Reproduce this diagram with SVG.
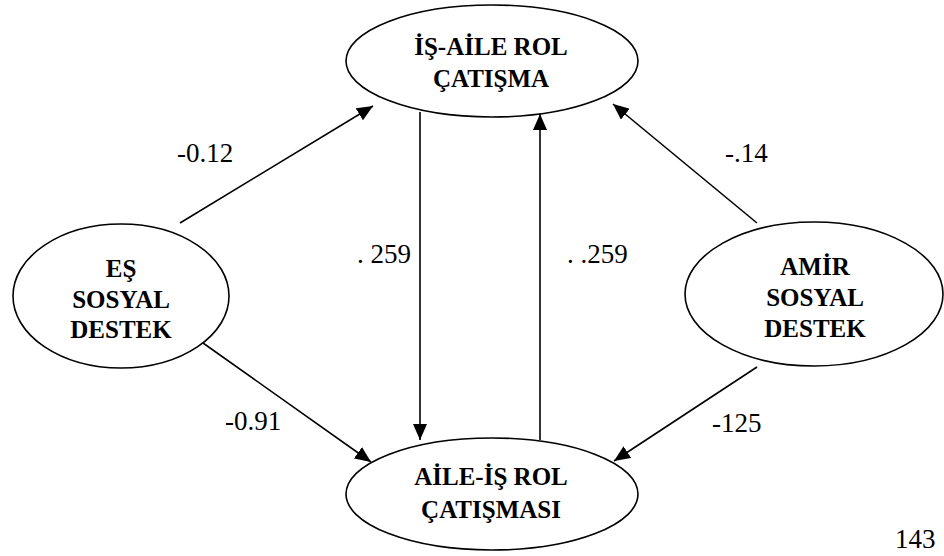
<svg xmlns="http://www.w3.org/2000/svg" width="944" height="556" viewBox="0 0 944 556">
<style>
.node ellipse{fill:#fff;stroke:#000;stroke-width:1.6}
.nt{font-weight:bold;font-size:25px;fill:#000;text-anchor:middle}
.el{font-size:27px;fill:#000}
.edges line{stroke:#000;stroke-width:1.6;marker-end:url(#ah)}
</style>
<defs>
<marker id="ah" markerUnits="userSpaceOnUse" markerWidth="16" markerHeight="14" refX="16" refY="7" orient="auto">
<path d="M0,0 L16,7 L0,14 z" fill="#000"/>
</marker>
</defs>
<rect width="944" height="556" fill="#fff"/>
<g class="edges" id="connectors">
<line x1="180" y1="223" x2="373" y2="106"/>
<line x1="757" y1="223" x2="613" y2="104"/>
<line x1="203" y1="343" x2="371" y2="462"/>
<line x1="757" y1="367" x2="614" y2="461"/>
<line x1="420" y1="112" x2="420" y2="440"/>
<line x1="540" y1="440" x2="540" y2="114"/>
</g>
<g font-family="Liberation Serif, Times New Roman, Times, serif">
<g id="n_isaile" class="node">
<ellipse cx="492" cy="61" rx="146" ry="56"/>
<text class="nt" x="491" y="55">İŞ-AİLE ROL</text>
<text class="nt" x="491" y="87">ÇATIŞMA</text>
</g>
<g id="n_aileis" class="node">
<ellipse cx="492" cy="494" rx="146" ry="56"/>
<text class="nt" x="491" y="485">AİLE-İŞ ROL</text>
<text class="nt" x="491" y="518">ÇATIŞMASI</text>
</g>
<g id="n_es" class="node">
<ellipse cx="121" cy="296" rx="108" ry="72"/>
<text class="nt" x="121" y="277">EŞ</text>
<text class="nt" x="121" y="308">SOSYAL</text>
<text class="nt" x="121" y="338">DESTEK</text>
</g>
<g id="n_amir" class="node">
<ellipse cx="814" cy="294" rx="129" ry="72"/>
<text class="nt" x="815" y="275">AMİR</text>
<text class="nt" x="815" y="306">SOSYAL</text>
<text class="nt" x="815" y="337">DESTEK</text>
</g>
<g id="labels">
<text class="el" x="177" y="162">-0.12</text>
<text class="el" x="725" y="162">-.14</text>
<text class="el" x="225" y="430">-0.91</text>
<text class="el" x="712" y="432">-125</text>
<text class="el" x="357" y="263">.  259</text>
<text class="el" x="567" y="263">. .259</text>
<text class="el" x="895" y="548" font-size="25">143</text>
</g>
</g>
</svg>
